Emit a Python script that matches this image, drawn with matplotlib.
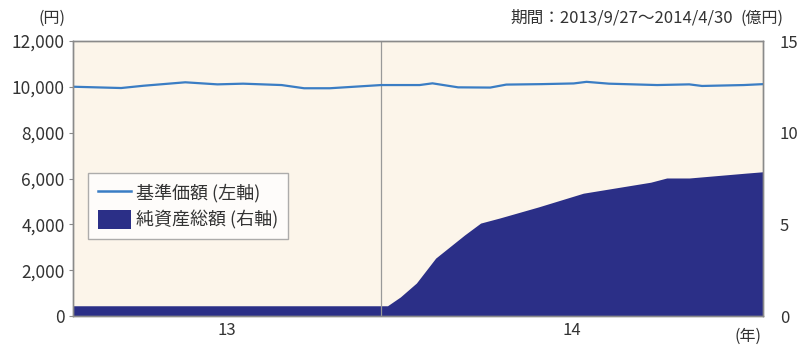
import numpy as np
import matplotlib
matplotlib.use("Agg")
import matplotlib.pyplot as plt
import matplotlib.dates as mdates
from matplotlib.patches import Patch
from matplotlib.lines import Line2D

plt.rcParams['font.family'] = ['Noto Sans CJK JP', 'DejaVu Sans']

# 基準価額（円）
nav_dates = ["2013-09-27", "2013-10-12", "2013-10-19", "2013-11-01", "2013-11-11",
             "2013-11-19", "2013-12-01", "2013-12-08", "2013-12-16", "2014-01-01",
             "2014-01-13", "2014-01-17", "2014-01-25", "2014-02-04", "2014-02-09",
             "2014-02-20", "2014-03-02", "2014-03-06", "2014-03-13", "2014-03-28",
             "2014-04-07", "2014-04-11", "2014-04-24", "2014-04-30"]
nav_values = [10007, 9950, 10050, 10200, 10110,
              10140, 10080, 9940, 9940, 10080,
              10080, 10155, 9980, 9970, 10100,
              10120, 10150, 10220, 10140, 10080,
              10110, 10040, 10080, 10120]

# 純資産総額（億円）
aum_dates = ["2013-09-27", "2014-01-03", "2014-01-07", "2014-01-12", "2014-01-18",
             "2014-01-27", "2014-02-01", "2014-02-07", "2014-02-19", "2014-03-05",
             "2014-03-26", "2014-03-31", "2014-04-07", "2014-04-25", "2014-04-30"]
aum_values = [0.56, 0.56, 1.04, 1.8, 3.16,
              4.42, 5.07, 5.35, 5.95, 6.7,
              7.3, 7.53, 7.53, 7.8, 7.87]

year_labels = ["13", "14"]
start, year_break, end = "2013-09-27", "2014-01-01", "2014-04-30"

nav_x = mdates.datestr2num(nav_dates)
aum_x = mdates.datestr2num(aum_dates)
x0, xb, x1 = mdates.datestr2num([start, year_break, end])

text_col = '#333333'
frame_col = '#8a8a8a'

fig = plt.figure(figsize=(8.09, 3.45), dpi=100)
fig.patch.set_facecolor('white')
ax = fig.add_axes([0.0902, 0.084, 0.853, 0.797])
ax2 = ax.twinx()

# 塗りつぶし（右軸）を下、線（左軸）を上に
ax.set_zorder(ax2.get_zorder() + 1)
ax.patch.set_visible(False)
ax2.patch.set_facecolor('#fcf5ea')
ax2.patch.set_visible(True)

ax2.fill_between(aum_x, aum_values, 0, color='#2b2f87', lw=0)
ax2.axvline(xb, color='#999999', lw=0.9)
ax.plot(nav_x, nav_values, color='#3a7dc4', lw=1.6)

ax.set_xlim(x0, x1)
ax.set_ylim(0, 12000)
ax2.set_ylim(0, 15)

ax.set_yticks(np.arange(0, 12001, 2000))
ax.set_yticklabels([f"{v:,}" for v in range(0, 12001, 2000)])
ax2.set_yticks([0, 5, 10, 15])

ax.set_xticks([(x0 + xb) / 2, (xb + x1) / 2])
ax.set_xticklabels(year_labels)

ax.tick_params(axis='y', length=3, color=frame_col, labelsize=12.5, labelcolor=text_col, pad=3)
ax.tick_params(axis='x', length=0, labelsize=12, labelcolor=text_col, pad=4)
ax2.tick_params(axis='y', length=0, labelsize=12, labelcolor=text_col, pad=12)

for a in (ax, ax2):
    for s in a.spines.values():
        s.set_color(frame_col)
        s.set_linewidth(1.0)

fig.text(52 / 809, 1 - 18 / 345, "(円)", ha='center', va='center', fontsize=11.5, color=text_col)
fig.text(733 / 809, 1 - 18 / 345, "期間：2013/9/27～2014/4/30", ha='right', va='center',
         fontsize=12, color=text_col)
fig.text(762 / 809, 1 - 18 / 345, "(億円)", ha='center', va='center', fontsize=11.5, color=text_col)
fig.text(748 / 809, 1 - 336 / 345, "(年)", ha='center', va='center', fontsize=11.5, color=text_col)

handles = [Line2D([], [], color='#3a7dc4', lw=1.8),
           Patch(facecolor='#2b2f87', edgecolor='none')]
leg = ax.legend(handles, ["基準価額 (左軸)", "純資産総額 (右軸)"],
                loc='upper left', bbox_to_anchor=(0.022, 0.52), borderaxespad=0,
                fontsize=13, frameon=True, fancybox=False,
                handlelength=1.8, handleheight=1.25,
                handletextpad=0.3, borderpad=0.55, labelspacing=0.4)
leg.get_frame().set_edgecolor('#999999')
leg.get_frame().set_linewidth(1.0)
leg.get_frame().set_facecolor('white')
for t in leg.get_texts():
    t.set_color(text_col)

fig.savefig("out.png", dpi=100)
